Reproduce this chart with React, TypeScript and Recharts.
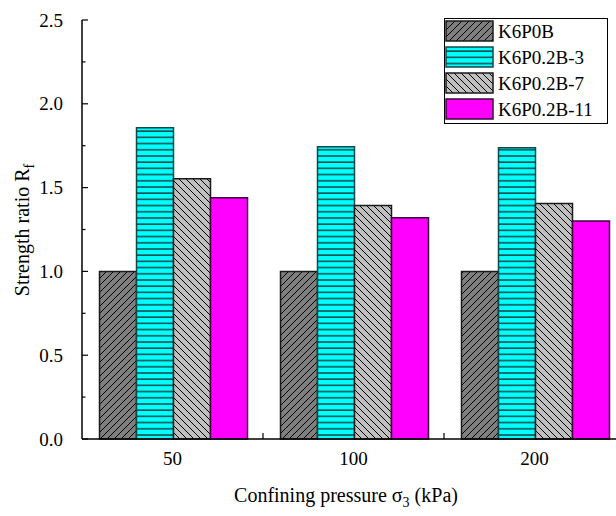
import React from 'react'
import { BarChart, Bar, XAxis, YAxis, Legend } from 'recharts'

const pressures = ['50', '100', '200']
const k6p0b = [1.0, 1.0, 1.0]
const k6p02b3 = [1.857, 1.744, 1.738]
const k6p02b7 = [1.553, 1.393, 1.405]
const k6p02b11 = [1.44, 1.32, 1.3]
const yTicks = [0, 0.25, 0.5, 0.75, 1.0, 1.25, 1.5, 1.75, 2.0, 2.25, 2.5]

const series = [
  { key: 'k6p0b', name: 'K6P0B', fill: 'url(#hatchDark)', stroke: '#1a1a1a' },
  { key: 'k6p02b3', name: 'K6P0.2B-3', fill: 'url(#hatchCyan)', stroke: '#134848' },
  { key: 'k6p02b7', name: 'K6P0.2B-7', fill: 'url(#hatchGrey)', stroke: '#1a1a1a' },
  { key: 'k6p02b11', name: 'K6P0.2B-11', fill: '#ff00ff', stroke: '#3a0a3a' },
]

const data = pressures.map((p, i) => ({
  pressure: p,
  k6p0b: k6p0b[i],
  k6p02b3: k6p02b3[i],
  k6p02b7: k6p02b7[i],
  k6p02b11: k6p02b11[i],
}))

const FONT = '"Liberation Serif", "Times New Roman", serif'
const CHART_W = 630
const CHART_H = 516
const Y_AXIS_W = 82
const X_AXIS_H = 77
const MARGIN = { top: 20, right: 5, bottom: 0, left: 0 }
const PLOT_W = CHART_W - MARGIN.left - MARGIN.right - Y_AXIS_W
const BAND = PLOT_W / pressures.length

function YTick(props: any) {
  const { x, y, payload } = props
  const v = payload.value
  const major = Math.abs(v * 2 - Math.round(v * 2)) < 1e-6
  const axisX = x + 19
  return (
    <g>
      <line x1={axisX} x2={axisX + (major ? 6 : 3.5)} y1={y} y2={y} stroke="#000" strokeWidth={1.2} />
      {major && (
        <text x={x} y={y} dy={6.5} textAnchor="end" fontFamily={FONT} fontSize={19} fill="#000">
          {v.toFixed(1)}
        </text>
      )}
    </g>
  )
}

function XTick(props: any) {
  const { x, y, payload, index } = props
  const axisY = y - 14
  const bx = x + BAND / 2
  return (
    <g>
      {index < pressures.length - 1 && (
        <line x1={bx} x2={bx} y1={axisY} y2={axisY - 6} stroke="#000" strokeWidth={1.2} />
      )}
      <text x={x} y={y} dy={12} textAnchor="middle" fontFamily={FONT} fontSize={19} fill="#000">
        {payload.value}
      </text>
    </g>
  )
}

function XTitle() {
  return (
    <text x={346} y={502} textAnchor="middle" fontFamily={FONT} fontSize={20} fill="#000">
      Confining pressure σ
      <tspan dy={5} fontSize={14}>3</tspan>
      <tspan dy={-5}> (kPa)</tspan>
    </text>
  )
}

function YTitle() {
  return (
    <text
      x={0}
      y={0}
      transform="translate(29, 230) rotate(-90)"
      textAnchor="middle"
      fontFamily={FONT}
      fontSize={20}
      fill="#000"
    >
      Strength ratio R
      <tspan dy={5} fontSize={14}>f</tspan>
    </text>
  )
}

function LegendBox() {
  return (
    <svg width={164} height={106} style={{ display: 'block' }}>
      <rect x={0.5} y={0.5} width={163} height={105} fill="#fff" stroke="#000" strokeWidth={1} />
      {series.map((s, i) => (
        <g key={s.key} transform={`translate(0, ${i * 26})`}>
          <rect x={2} y={3} width={47} height={20} fill={s.fill} stroke={s.stroke} strokeWidth={1.5} />
          <text x={54} y={20} fontFamily={FONT} fontSize={19} fill="#000">
            {s.name}
          </text>
        </g>
      ))}
    </svg>
  )
}

export default function App() {
  return (
    <div style={{ position: 'absolute', left: 0, top: 0, width: 616, height: 516, overflow: 'hidden', background: '#fff' }}>
      <BarChart
        width={CHART_W}
        height={CHART_H}
        data={data}
        margin={MARGIN}
        barGap={0}
        barCategoryGap={17.5}
      >
        <defs>
          <pattern id="hatchDark" patternUnits="userSpaceOnUse" width={7} height={7}>
            <rect width={7} height={7} fill="#7f7f7f" />
            <path d="M-1,1 l2,-2 M0,7 l7,-7 M6,8 l2,-2" stroke="#000" strokeWidth={1} />
          </pattern>
          <pattern id="hatchGrey" patternUnits="userSpaceOnUse" width={7} height={7}>
            <rect width={7} height={7} fill="#c0c0c0" />
            <path d="M-1,6 l2,2 M0,0 l7,7 M6,-1 l2,2" stroke="#000" strokeWidth={1} />
          </pattern>
          <pattern id="hatchCyan" patternUnits="userSpaceOnUse" width={8} height={6.2}>
            <rect width={8} height={6.2} fill="#00ffff" />
            <line x1={0} x2={8} y1={1} y2={1} stroke="#0f4f4f" strokeWidth={1.6} />
          </pattern>
        </defs>
        <XAxis
          dataKey="pressure"
          height={X_AXIS_H}
          tickLine={false}
          tickSize={0}
          tickMargin={14}
          tick={<XTick />}
          axisLine={{ stroke: '#000', strokeWidth: 1.5 }}
          interval={0}
          label={<XTitle />}
        />
        <YAxis
          width={Y_AXIS_W}
          domain={[0, 2.5]}
          ticks={yTicks}
          interval={0}
          tickLine={false}
          tickSize={0}
          tickMargin={19}
          tick={<YTick />}
          axisLine={{ stroke: '#000', strokeWidth: 1.5 }}
          label={<YTitle />}
        />
        <Legend
          layout="vertical"
          align="center"
          verticalAlign="middle"
          content={<LegendBox />}
          wrapperStyle={{ position: 'absolute', left: 444, top: 18, width: 164, height: 106 }}
        />
        {series.map((s) => (
          <Bar
            key={s.key}
            dataKey={s.key}
            name={s.name}
            fill={s.fill}
            stroke={s.stroke}
            strokeWidth={1.5}
            isAnimationActive={false}
          />
        ))}
      </BarChart>
    </div>
  )
}
